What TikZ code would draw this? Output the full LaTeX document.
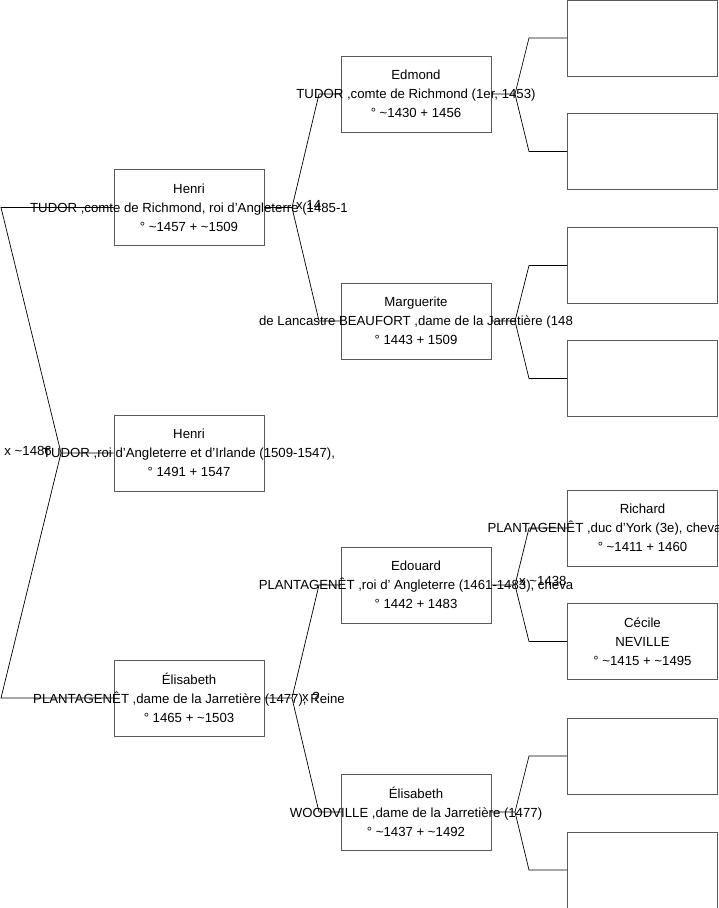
\documentclass[tikz,border=0pt]{standalone}
\usepackage{fontspec}
\setmainfont{Liberation Sans}
\usetikzlibrary{positioning}
\definecolor{cadreGris}{RGB}{90,90,90}
\newcommand{\ligne}[1]{\makebox[0pt]{#1}}
\newcommand{\env}{\textasciitilde}

\begin{document}
\begin{tikzpicture}[
    x=1pt, y=-1pt,
    fiche/.style={
      rectangle, draw=cadreGris, line width=0.8pt,
      minimum width=150pt, minimum height=76pt, inner sep=0pt,
      align=center, font=\fontsize{13.2}{19}\selectfont
    },
    lien/.style={draw=black, line width=0.7pt},
    mariage/.style={inner sep=0pt, font=\fontsize{13.2}{15}\selectfont}
  ]
    \useasboundingbox (0,0) rectangle (719,908);

    % generation 1
    \node[fiche] (henri7) at (189,207.5) {\ligne{Henri}\\\ligne{TUDOR ,comte de Richmond, roi d'Angleterre (1485-1}\\\ligne{° \env1457 + \env1509}};
    \node[fiche] (henri8) at (189,453) {\ligne{Henri}\\\ligne{TUDOR ,roi d'Angleterre et d'Irlande (1509-1547),}\\\ligne{° 1491 + 1547}};
    \node[fiche] (elisY) at (189,698) {\ligne{Élisabeth}\\\ligne{PLANTAGENÊT ,dame de la Jarretière (1477), Reine}\\\ligne{° 1465 + \env1503}};

    % generation 2
    \node[fiche] (edmond) at (416,94) {\ligne{Edmond}\\\ligne{TUDOR ,comte de Richmond (1er, 1453)}\\\ligne{° \env1430 + 1456}};
    \node[fiche] (marguerite) at (416,321) {\ligne{Marguerite}\\\ligne{de Lancastre BEAUFORT ,dame de la Jarretière (148}\\\ligne{° 1443 + 1509}};
    \node[fiche] (edouard) at (416,585) {\ligne{Edouard}\\\ligne{PLANTAGENÊT ,roi d' Angleterre (1461-1483), cheva}\\\ligne{° 1442 + 1483}};
    \node[fiche] (elisW) at (416,812) {\ligne{Élisabeth}\\\ligne{WOODVILLE ,dame de la Jarretière (1477)}\\\ligne{° \env1437 + \env1492}};

    % generation 3
    \node[fiche] (a1) at (642.5,38) {};
    \node[fiche] (a2) at (642.5,151.5) {};
    \node[fiche] (a3) at (642.5,265.5) {};
    \node[fiche] (a4) at (642.5,378.5) {};
    \node[fiche] (richard) at (642.5,528) {\ligne{Richard}\\\makebox[0pt][l]{\hspace{-155pt}PLANTAGENÊT ,duc d'York (3e), cheva}\\\ligne{° \env1411 + 1460}};
    \node[fiche] (cecile) at (642.5,641.5) {\ligne{Cécile}\\\ligne{NEVILLE}\\\ligne{° \env1415 + \env1495}};
    \node[fiche] (a7) at (642.5,756) {};
    \node[fiche] (a8) at (642.5,870) {};

    % fourches
    \coordinate (fRac) at (61,453);
    \coordinate (fRacH) at (1,207.5);
    \coordinate (fRacB) at (1,698);
    \draw[lien] (henri8.west) -- (fRac) -- (fRacH) -- (henri7.west);
    \draw[lien] (fRac) -- (fRacB) -- (elisY.west);

    \coordinate (fH7) at (292,207.5);
    \draw[lien] (henri7.east) -- (fH7) -- (319,94) -- (edmond.west);
    \draw[lien] (fH7) -- (319,321) -- (marguerite.west);

    \coordinate (fEY) at (292,698);
    \draw[lien] (elisY.east) -- (fEY) -- (319,585) -- (edouard.west);
    \draw[lien] (fEY) -- (319,812) -- (elisW.west);

    \coordinate (fEd) at (515,94);
    \draw[lien] (edmond.east) -- (fEd) -- (529,38) -- (a1.west);
    \draw[lien] (fEd) -- (529,151.5) -- (a2.west);

    \coordinate (fMa) at (515,321);
    \draw[lien] (marguerite.east) -- (fMa) -- (529,265.5) -- (a3.west);
    \draw[lien] (fMa) -- (529,378.5) -- (a4.west);

    \coordinate (fEo) at (515,585);
    \draw[lien] (edouard.east) -- (fEo) -- (529,528) -- (richard.west);
    \draw[lien] (fEo) -- (529,641.5) -- (cecile.west);

    \coordinate (fEW) at (515,812);
    \draw[lien] (elisW.east) -- (fEW) -- (529,756) -- (a7.west);
    \draw[lien] (fEW) -- (529,870) -- (a8.west);

    % mariages
    \node[mariage, anchor=east] (mRac) at (52,451) {x \env1486};
    \node[mariage, anchor=west] (mH7) at (296,205) {x 14};
    \node[mariage, anchor=west] (mEY) at (302,697) {x ?};
    \node[mariage, anchor=west] (mEo) at (519,581) {x \env1438};
\end{tikzpicture}
\end{document}
